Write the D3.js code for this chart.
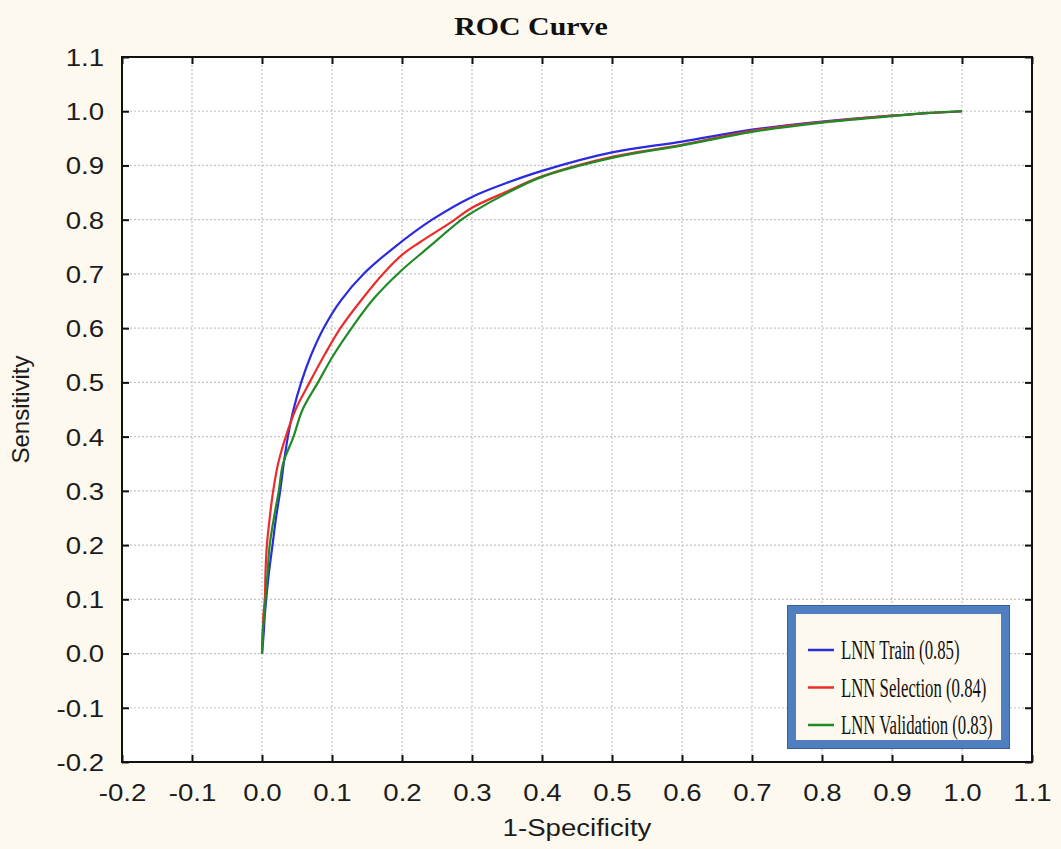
<!DOCTYPE html>
<html>
<head>
<meta charset="utf-8">
<script src="https://cdn.jsdelivr.net/npm/d3@7"></script>
<style>
    body { margin: 0; background: #fdf9ef; }
</style>
</head>
<body>
<div id="chart"></div>
<script>
// ROC points as [1-specificity, sensitivity]
var trainCurve = [
    [0, 0], [0.002, 0.03], [0.004, 0.07], [0.006, 0.1], [0.01, 0.15], [0.015, 0.2],
    [0.02, 0.25], [0.026, 0.3], [0.031, 0.35], [0.037, 0.4], [0.045, 0.45], [0.056, 0.5],
    [0.07, 0.55], [0.088, 0.6], [0.112, 0.65], [0.145, 0.7], [0.19, 0.75], [0.243, 0.8],
    [0.3, 0.842], [0.35, 0.868], [0.4, 0.89], [0.5, 0.924], [0.6, 0.944], [0.7, 0.966],
    [0.8, 0.981], [0.9, 0.992], [1, 1]
];
var selectionCurve = [
    [0, 0], [0.001, 0.03], [0.002, 0.07], [0.004, 0.1], [0.005, 0.15], [0.007, 0.2],
    [0.011, 0.25], [0.016, 0.3], [0.023, 0.35], [0.034, 0.4], [0.048, 0.45], [0.068, 0.5],
    [0.089, 0.55], [0.112, 0.6], [0.142, 0.652], [0.175, 0.703], [0.2, 0.735], [0.225, 0.758],
    [0.272, 0.797], [0.3, 0.822], [0.35, 0.852], [0.4, 0.88], [0.5, 0.916], [0.6, 0.938],
    [0.7, 0.964], [0.8, 0.98], [0.9, 0.992], [1, 1]
];
var validationCurve = [
    [0, 0], [0.001, 0.04], [0.004, 0.08], [0.005, 0.1], [0.008, 0.15], [0.011, 0.2],
    [0.017, 0.25], [0.024, 0.3], [0.03, 0.35], [0.045, 0.4], [0.058, 0.45], [0.08, 0.5],
    [0.102, 0.55], [0.129, 0.602], [0.16, 0.655], [0.198, 0.705], [0.237, 0.748], [0.285, 0.8],
    [0.3, 0.813], [0.35, 0.849], [0.4, 0.879], [0.5, 0.914], [0.6, 0.937], [0.7, 0.962],
    [0.8, 0.979], [0.9, 0.991], [0.95, 0.997], [1, 1]
];

var seriesNames = ["LNN Train (0.85)", "LNN Selection (0.84)", "LNN Validation (0.83)"];
var seriesColors = ["#2a2ade", "#ec2c2c", "#218a24"];
var xTicks = [-0.2, -0.1, 0.0, 0.1, 0.2, 0.3, 0.4, 0.5, 0.6, 0.7, 0.8, 0.9, 1.0, 1.1];
var yTicks = [-0.2, -0.1, 0.0, 0.1, 0.2, 0.3, 0.4, 0.5, 0.6, 0.7, 0.8, 0.9, 1.0, 1.1];

(function () {
    var width = 1061,
        height = 849;

    var plot = { left: 122, top: 57, right: 1032, bottom: 762 };
    var stretch = "scale(1.15,1)"; // the source picture is a little wide

    var svg = d3.select("#chart")
        .append("svg")
        .attr("width", width)
        .attr("height", height);

    var x = d3.scaleLinear().domain([-0.2, 1.1]).range([plot.left, plot.right]);
    var y = d3.scaleLinear().domain([-0.2, 1.1]).range([plot.bottom, plot.top]);
    var fmt = function (d) { return d.toFixed(1); };

    svg.append("rect")
        .attr("x", plot.left).attr("y", plot.top)
        .attr("width", plot.right - plot.left)
        .attr("height", plot.bottom - plot.top)
        .attr("fill", "#fff");

    // dotted grid
    var grid = svg.append("g")
        .attr("stroke", "#c4c4c4")
        .attr("stroke-width", 1.2)
        .attr("stroke-dasharray", "2,2");
    grid.selectAll(".gx").data(xTicks.slice(1, -1)).enter().append("line")
        .attr("x1", d => x(d)).attr("x2", d => x(d))
        .attr("y1", plot.top).attr("y2", plot.bottom);
    grid.selectAll(".gy").data(yTicks.slice(1, -1)).enter().append("line")
        .attr("y1", d => y(d)).attr("y2", d => y(d))
        .attr("x1", plot.left).attr("x2", plot.right);

    // curves
    var line = d3.line()
        .x(d => x(d[0]))
        .y(d => y(d[1]))
        .curve(d3.curveCatmullRom.alpha(0.5));

    [trainCurve, selectionCurve, validationCurve].forEach(function (c, i) {
        svg.append("path")
            .datum(c)
            .attr("fill", "none")
            .attr("stroke", seriesColors[i])
            .attr("stroke-width", 2.2)
            .attr("d", line);
    });

    // axes, ticks pointing inward on all four sides
    var tickLen = -7;
    var bottom = svg.append("g")
        .attr("transform", "translate(0," + plot.bottom + ")")
        .call(d3.axisBottom(x).tickValues(xTicks).tickSize(tickLen).tickFormat(fmt));
    bottom.selectAll("text")
        .attr("y", 39).attr("dy", null)
        .attr("transform", stretch);

    var left = svg.append("g")
        .attr("transform", "translate(" + plot.left + ",0)")
        .call(d3.axisLeft(y).tickValues(yTicks).tickSize(tickLen).tickFormat(fmt));
    left.selectAll("text")
        .attr("x", -18 / 1.15).attr("dy", "0.35em")
        .attr("transform", stretch);

    svg.append("g")
        .attr("transform", "translate(0," + plot.top + ")")
        .call(d3.axisTop(x).tickValues(xTicks).tickSize(tickLen).tickFormat(""));
    svg.append("g")
        .attr("transform", "translate(" + plot.right + ",0)")
        .call(d3.axisRight(y).tickValues(yTicks).tickSize(tickLen).tickFormat(""));

    svg.selectAll(".domain").remove();
    svg.selectAll(".tick line").attr("stroke", "#111").attr("stroke-width", 2);
    svg.selectAll(".tick text")
        .attr("font-family", "'Liberation Sans', Arial, sans-serif")
        .attr("font-size", 24)
        .attr("fill", "#1c1c1c");

    svg.append("rect")
        .attr("x", plot.left).attr("y", plot.top)
        .attr("width", plot.right - plot.left)
        .attr("height", plot.bottom - plot.top)
        .attr("fill", "none")
        .attr("stroke", "#111")
        .attr("stroke-width", 2);

    // titles
    svg.append("text")
        .attr("transform", "translate(531,35) " + stretch)
        .attr("text-anchor", "middle")
        .attr("font-family", "'Liberation Serif', 'Times New Roman', serif")
        .attr("font-weight", "bold")
        .attr("font-size", 26)
        .attr("fill", "#111")
        .text("ROC Curve");

    svg.append("text")
        .attr("transform", "translate(" + (plot.left + plot.right) / 2 + ",836) " + stretch)
        .attr("text-anchor", "middle")
        .attr("font-family", "'Liberation Sans', Arial, sans-serif")
        .attr("font-size", 24)
        .attr("fill", "#1c1c1c")
        .text("1-Specificity");

    svg.append("text")
        .attr("transform", "translate(29," + (plot.top + plot.bottom) / 2 + ") rotate(-90)")
        .attr("text-anchor", "middle")
        .attr("font-family", "'Liberation Sans', Arial, sans-serif")
        .attr("font-size", 24)
        .attr("fill", "#1c1c1c")
        .text("Sensitivity");

    // legend
    var legend = svg.append("g");
    legend.append("rect")
        .attr("x", 792).attr("y", 610)
        .attr("width", 213).attr("height", 134)
        .attr("fill", "#fdf9ef")
        .attr("stroke", "#4f7fbf")
        .attr("stroke-width", 8);
    legend.append("rect")
        .attr("x", 787.5).attr("y", 605.5)
        .attr("width", 222).attr("height", 143)
        .attr("fill", "none")
        .attr("stroke", "#35619b")
        .attr("stroke-width", 1);

    var rows = legend.selectAll(".row")
        .data(seriesNames)
        .enter().append("g")
        .attr("transform", (d, i) => "translate(0," + (650 + i * 37.5) + ")");
    rows.append("line")
        .attr("x1", 808).attr("x2", 834)
        .attr("stroke", (d, i) => seriesColors[i])
        .attr("stroke-width", 2.5);
    rows.append("text")
        .attr("transform", "translate(841,9) scale(0.62,1)")
        .attr("font-family", "'Liberation Serif', 'Times New Roman', serif")
        .attr("font-size", 27)
        .attr("fill", "#111")
        .text(d => d);
})();
</script>
</body>
</html>
